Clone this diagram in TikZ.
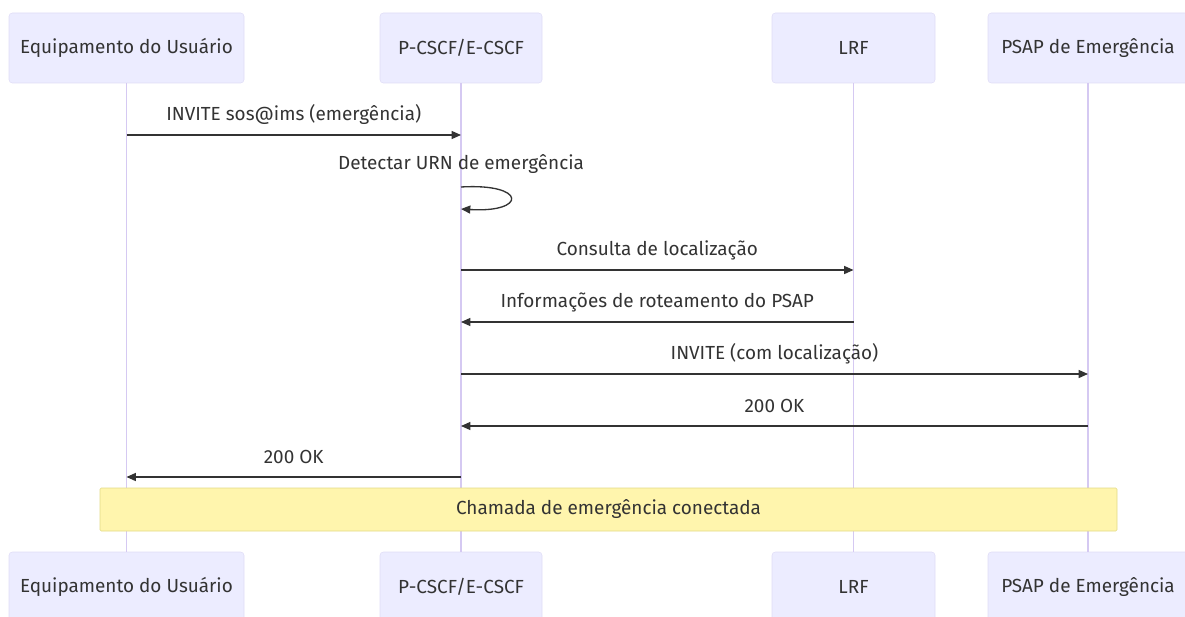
\documentclass[tikz,border=0pt]{standalone}
\usepackage{fontspec}
\setmainfont{Fira Sans}
\usetikzlibrary{positioning,arrows.meta}
\definecolor{actorfill}{HTML}{ECECFF}
\definecolor{actorline}{HTML}{E0DCF6}
\definecolor{lifeline}{HTML}{D5C9F2}
\definecolor{notefill}{HTML}{FFF5AD}
\definecolor{noteline}{HTML}{E2DB86}
\definecolor{ink}{HTML}{333333}
\tikzset{
  actor/.style={draw=actorline, fill=actorfill, rounded corners=2.5pt,
    minimum width=#1, minimum height=52.5pt, inner sep=0pt,
    text=ink, font=\fontsize{14.2}{16}\selectfont},
  life/.style={draw=lifeline, line width=0.9pt},
  msg/.style={draw=ink, line width=1pt, -{Triangle[length=7pt,width=6pt]}},
  msglabel/.style={text=ink, inner sep=0pt, font=\fontsize{14.2}{16}\selectfont},
  note/.style={draw=noteline, fill=notefill, rounded corners=1pt,
    minimum width=762.75pt, minimum height=32.25pt, inner sep=0pt,
    text=ink, font=\fontsize{14.2}{16}\selectfont}
}
\begin{document}
\begin{tikzpicture}[x=0.75pt,y=-0.75pt]
\useasboundingbox (0,0) rectangle (1185,617);
% participants, top and bottom
\node[actor=176.25pt] (ueT) at (126.5,48) {Equipamento do Usuário};
\node[actor=121.5pt] (pcT) at (461,48) {P-CSCF/E-CSCF};
\node[actor=122.25pt] (lrfT) at (853.5,48) {LRF};
\node[actor=150pt] (psT) at (1088,48) {PSAP de Emergência};
\node[actor=176.25pt] (ueB) at (126.5,587) {Equipamento do Usuário};
\node[actor=121.5pt] (pcB) at (461,587) {P-CSCF/E-CSCF};
\node[actor=122.25pt] (lrfB) at (853.5,587) {LRF};
\node[actor=150pt] (psB) at (1088,587) {PSAP de Emergência};
% lifelines
\foreach \a in {ue,pc,lrf,ps}
  \draw[life] (\a T.south) -- (\a B.north);
% points on the lifelines, one row per message
\foreach \r/\y in {1/135,2/187,3/209,4/270,5/322,6/374,7/426,8/477}
  \foreach \a in {ue,pc,lrf,ps}
    \coordinate (\a\r) at (\a T.south |- 0,\y);
% messages
\draw[msg] (ue1) -- (pc1) node[msglabel, midway, yshift=15pt] {INVITE sos@ims (emergência)};
\draw[msg] (pc2) .. controls (527,183) and (527,213) .. (pc3);
\node[msglabel, above=10pt of pc2] (selflbl) {Detectar URN de emergência};
\draw[msg] (pc4) -- (lrf4) node[msglabel, midway, yshift=15pt] {Consulta de localização};
\draw[msg] (lrf5) -- (pc5) node[msglabel, midway, yshift=15pt] {Informações de roteamento do PSAP};
\draw[msg] (pc6) -- (ps6) node[msglabel, midway, yshift=15pt] {INVITE (com localização)};
\draw[msg] (ps7) -- (pc7) node[msglabel, midway, yshift=15pt] {200 OK};
\draw[msg] (pc8) -- (ue8) node[msglabel, midway, yshift=15pt] {200 OK};
% note over all
\node[note] (conn) at (608.5,509.5) {Chamada de emergência conectada};
\end{tikzpicture}
\end{document}
